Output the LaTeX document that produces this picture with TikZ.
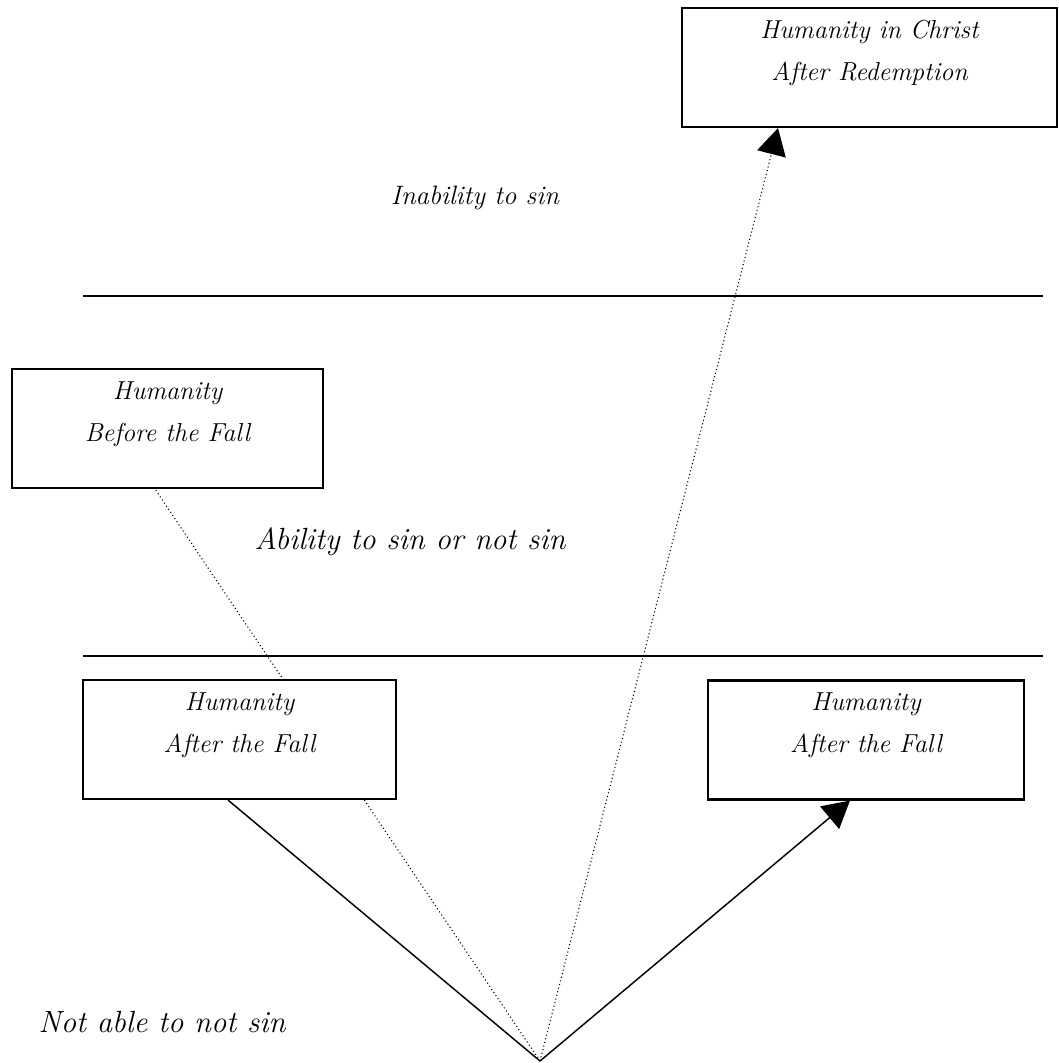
\documentclass[tikz,border=0pt]{standalone}
\usepackage{tikz}
\usetikzlibrary{arrows.meta,backgrounds}

\begin{document}
\begin{tikzpicture}[x=0.75pt, y=-0.75pt,
    hum/.style = {draw, line width=1.6pt, fill=white, align=center, inner sep=0pt,
        font=\itshape\fontsize{19.5}{31.5}\selectfont, minimum height=89.25pt},
    say/.style = {font=\itshape\fontsize{23}{28}\selectfont},
    rule/.style = {line width=1.5pt},
    tip/.style = {-{Triangle[length=20pt, width=22pt]}}]
    \useasboundingbox (0,0) rectangle (1058,1063);

    \node[hum, minimum width=281.25pt] (HC) at (869.5,67.5) {Humanity in Christ\\After Redemption\\[-15pt]\strut};
    \node[hum, minimum width=233.25pt] (BF) at (167.5,428.5) {Humanity\\Before the Fall\\[-15pt]\strut};
    \node[hum, minimum width=234.75pt] (AF1) at (239.5,739.5) {Humanity\\After the Fall\\[-15pt]\strut};
    \node[hum, minimum width=237pt] (AF2) at (866,740) {Humanity\\After the Fall\\[-15pt]\strut};

    \node[say, font=\itshape\fontsize{20}{24}\selectfont] (inab) at (475,198) {Inability to sin};
    \node[say] (abil) at (410,542) {Ability to sin or not sin};
    \node[say] (notab) at (162,1022) {Not able to not sin};

    \coordinate (v) at (540,1061);

    % levels
    \draw[rule] (83,296) -- (1043,296);
    \draw[rule] (83,656) -- (1043,656);

    \begin{scope}[on background layer]
        \path[line width=1.1pt] (v) edge ([xshift=-8.6pt]AF1.south);
        \path[line width=1.1pt, tip] (v) edge ([xshift=-12pt]AF2.south);
        \path[dotted, line width=0.8pt] (v) edge ([xshift=-9.4pt]BF.south);
        \path[dotted, line width=0.8pt, tip] (v) edge ([xshift=-68.6pt]HC.south);
    \end{scope}
\end{tikzpicture}
\end{document}
